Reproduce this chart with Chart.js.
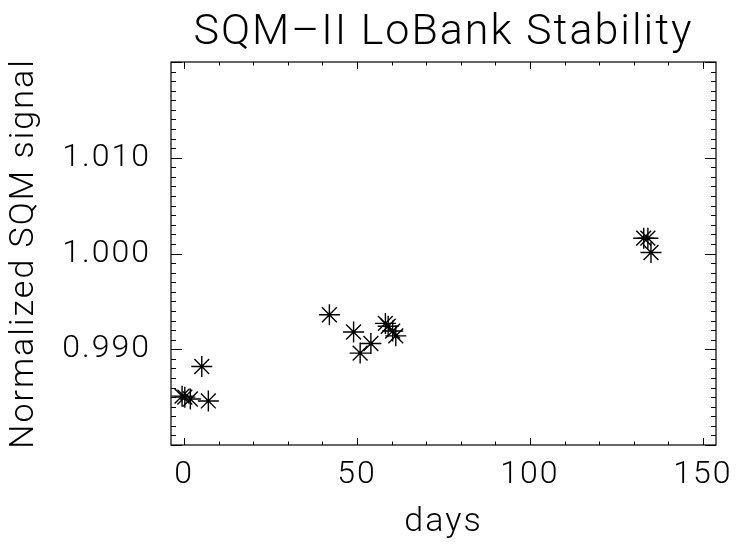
<!DOCTYPE html>
<html>
<head>
<meta charset="utf-8">
<script src="https://cdn.jsdelivr.net/npm/chart.js@4/dist/chart.umd.min.js"></script>
<style>
  html, body { margin: 0; padding: 0; background: #fff; }
  #wrap { width: 736px; height: 550px; }
</style>
</head>
<body>
<div id="wrap"><canvas id="sqm-chart"></canvas></div>
<script>
const days = [-0.6, 0.2, 1.8, 5.1, 7.0,
              42.0, 49.0, 50.9, 54.0, 58.2, 59.0, 60.3, 61.2,
              132.9, 134.1, 135.0];
const signal = [0.9851, 0.9850, 0.9848, 0.9882, 0.9846,
                0.9936, 0.9918, 0.9896, 0.9906, 0.9927, 0.9924, 0.9919, 0.9914,
                1.0016, 1.0016, 1.0001];
const xTicks = [0, 50, 100, 150];
const yTicks = [0.990, 1.000, 1.010];

const fontFamily = 'Roboto, "DejaVu Sans", sans-serif';

// wide spacing to get closer to the thin, airy plotting font of the original
const spacingPlugin = {
  id: 'spacing',
  beforeUpdate(chart) { chart.ctx.letterSpacing = '2px'; },
  beforeDraw(chart) { chart.ctx.letterSpacing = '2px'; }
};

// IDL style frame: box on all sides with inward major/minor ticks
const framePlugin = {
  id: 'frame',
  afterDraw(chart) {
    const ctx = chart.ctx;
    const area = chart.chartArea;
    const xs = chart.scales.x;
    const ys = chart.scales.y;
    ctx.save();
    ctx.strokeStyle = '#000';
    ctx.lineWidth = 1.2;
    ctx.strokeRect(area.left, area.top, area.right - area.left, area.bottom - area.top);

    ctx.lineWidth = 1;
    ctx.beginPath();
    for (let v = 0; v <= 150; v += 10) {
      const px = Math.round(xs.getPixelForValue(v)) + 0.5;
      const len = (v % 50 === 0) ? 7 : 3.5;
      ctx.moveTo(px, area.bottom);
      ctx.lineTo(px, area.bottom - len);
      ctx.moveTo(px, area.top);
      ctx.lineTo(px, area.top + len);
    }
    for (let i = 980; i <= 1020; i++) {
      const py = Math.round(ys.getPixelForValue(i / 1000)) + 0.5;
      const len = (i % 10 === 0) ? 11 : 5;
      ctx.moveTo(area.left, py);
      ctx.lineTo(area.left + len, py);
      ctx.moveTo(area.right, py);
      ctx.lineTo(area.right - len, py);
    }
    ctx.stroke();
    ctx.restore();
  }
};

const canvas = document.getElementById('sqm-chart');
new Chart(canvas, {
  type: 'scatter',
  data: {
    datasets: [{
      label: 'LoBank',
      data: days.map((d, i) => ({ x: d, y: signal[i] })),
      pointStyle: 'star',
      pointRadius: 10.5,
      pointHoverRadius: 10.5,
      borderColor: '#000',
      backgroundColor: '#000',
      borderWidth: 1.4
    }]
  },
  options: {
    responsive: true,
    maintainAspectRatio: false,
    animation: false,
    layout: { padding: { left: 0, right: 20, top: 0, bottom: 0 } },
    plugins: {
      legend: { display: false },
      tooltip: { enabled: false },
      title: {
        display: true,
        text: 'SQM\u2013II LoBank Stability',
        fullSize: false,
        color: '#000',
        font: { family: fontFamily, size: 43, weight: '300' },
        padding: { top: 7, bottom: 3.4 }
      }
    },
    scales: {
      x: {
        type: 'linear',
        min: -3.8,
        max: 153.8,
        grid: { display: false },
        border: { display: false },
        afterBuildTicks: s => { s.ticks = xTicks.map(v => ({ value: v })); },
        afterFit: s => { s.height = 105; },
        ticks: {
          color: '#000',
          padding: 3,
          maxRotation: 0,
          font: { family: fontFamily, size: 32, weight: '300' },
          callback: v => String(v)
        },
        title: {
          display: true,
          text: 'days',
          color: '#000',
          font: { family: fontFamily, size: 34, weight: '300' },
          padding: { top: 0, bottom: 7 }
        }
      },
      y: {
        type: 'linear',
        min: 0.980,
        max: 1.020,
        grid: { display: false },
        border: { display: false },
        afterBuildTicks: s => { s.ticks = yTicks.map(v => ({ value: v })); },
        afterFit: s => { s.width = 171; },
        ticks: {
          color: '#000',
          padding: 12,
          font: { family: fontFamily, size: 32, weight: '300' },
          callback: v => Number(v).toFixed(3)
        },
        title: {
          display: true,
          text: 'Normalized SQM signal',
          color: '#000',
          font: { family: fontFamily, size: 34, weight: '300' },
          padding: { top: 4, bottom: 0 }
        }
      }
    }
  },
  plugins: [spacingPlugin, framePlugin]
});
</script>
</body>
</html>
